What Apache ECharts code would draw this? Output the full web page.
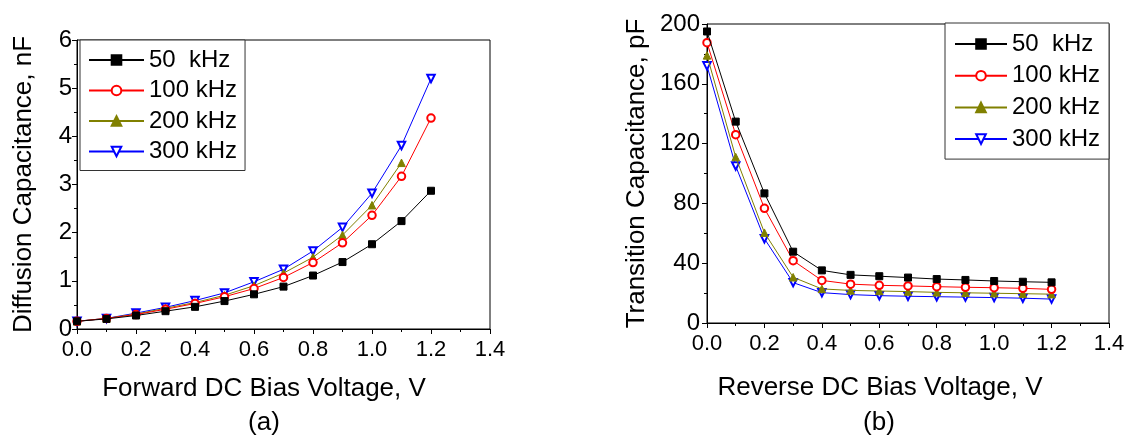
<!DOCTYPE html>
<html>
<head>
<meta charset="utf-8">
<script src="https://cdn.jsdelivr.net/npm/echarts@6/dist/echarts.min.js"></script>
<style>
  html, body { margin: 0; padding: 0; background: #fff; }
  #chart { width: 1129px; height: 437px; }
</style>
</head>
<body>
<div id="chart"></div>
<script>
// Bias voltage (V)
const voltages = [0.0, 0.1, 0.2, 0.3, 0.4, 0.5, 0.6, 0.7, 0.8, 0.9, 1.0, 1.1, 1.2];
const seriesNames = ['50  kHz', '100 kHz', '200 kHz', '300 kHz'];

// (a) Diffusion capacitance under forward bias, nF
const diff50 = [0.16, 0.21, 0.28, 0.37, 0.46, 0.58, 0.72, 0.88, 1.11, 1.39, 1.76, 2.24, 2.87];
const diff100 = [0.16, 0.22, 0.30, 0.41, 0.53, 0.67, 0.84, 1.07, 1.38, 1.79, 2.36, 3.17, 4.38];
const diff200 = [0.16, 0.22, 0.31, 0.43, 0.55, 0.70, 0.90, 1.16, 1.49, 1.95, 2.57, 3.45];
const diff300 = [0.16, 0.22, 0.33, 0.45, 0.59, 0.75, 0.98, 1.24, 1.62, 2.11, 2.82, 3.81, 5.20];

// (b) Transition capacitance under reverse bias, pF
const trans50 = [195, 134.7, 86.7, 47.7, 35.2, 32.2, 31.3, 30.4, 29.4, 28.8, 28.1, 27.6, 27.2];
const trans100 = [187.5, 126, 76.7, 41.7, 28.5, 26.0, 25.2, 24.8, 24.3, 23.9, 23.6, 23.2, 22.5];
const trans200 = [179, 111, 60.4, 30.6, 22.8, 21.8, 21.4, 21.0, 20.5, 20.2, 19.9, 19.6, 19.3];
const trans300 = [172, 105, 56.4, 27, 20.3, 19.0, 18.3, 17.9, 17.6, 17.3, 17.0, 16.6, 16.0];

const xTicks = { min: 0, max: 1.4, interval: 0.2 };
const diffTicks = { min: 0, max: 6, interval: 1 };
const transTicks = { min: 0, max: 200, interval: 40 };

const FONT = '"Liberation Sans", Arial, sans-serif';
const colors = ['#000000', '#ff0000', '#808000', '#0000ff'];
const symbols = ['rect', 'emptyCircle', 'triangle', 'emptyTriangle'];
const rotations = [0, 0, 0, 180];

function pairs(ys) {
  return ys.map((y, i) => [voltages[i], y]);
}

function makeSeries(datasets, axisIndex) {
  return datasets.map((ys, k) => ({
    name: seriesNames[k],
    type: 'line',
    xAxisIndex: axisIndex,
    yAxisIndex: axisIndex,
    data: pairs(ys),
    symbol: symbols[k],
    symbolSize: k === 0 ? 7 : 7.5,
    symbolRotate: rotations[k],
    showAllSymbol: true,
    animation: false,
    z: 10 - k,
    lineStyle: { color: colors[k], width: 1 },
    itemStyle: { color: colors[k], borderColor: colors[k], borderWidth: 1 }
  }));
}

function xAxis(gridIndex) {
  return {
    type: 'value',
    gridIndex,
    min: xTicks.min, max: xTicks.max, interval: xTicks.interval,
    axisLine: { show: true, onZero: false, lineStyle: { color: '#000', width: 1 } },
    axisTick: { show: true, inside: false, length: 5, lineStyle: { color: '#000' } },
    minorTick: { show: true, splitNumber: 2, length: 3, lineStyle: { color: '#000' } },
    splitLine: { show: false },
    axisLabel: {
      fontFamily: FONT, fontSize: 22, color: '#000', margin: 10,
      formatter: v => v.toFixed(1)
    }
  };
}

function yAxis(gridIndex, ticks, name, gap, margin) {
  return {
    type: 'value',
    gridIndex,
    min: ticks.min, max: ticks.max, interval: ticks.interval,
    name,
    nameLocation: 'middle',
    nameRotate: 90,
    nameGap: gap,
    nameTextStyle: { fontFamily: FONT, fontSize: 26, color: '#000' },
    axisLine: { show: true, onZero: false, lineStyle: { color: '#000', width: 1 } },
    axisTick: { show: true, inside: false, length: 5, lineStyle: { color: '#000' } },
    minorTick: { show: true, splitNumber: 2, length: 3, lineStyle: { color: '#000' } },
    splitLine: { show: false },
    axisLabel: { fontFamily: FONT, fontSize: 24, color: '#000', margin }
  };
}

function legend(left, top, itemWidth, gap, padding) {
  return {
    orient: 'vertical',
    left, top,
    data: seriesNames,
    itemWidth,
    itemHeight: 12,
    itemGap: gap,
    padding,
    backgroundColor: '#fff',
    borderColor: '#333',
    borderWidth: 1,
    borderRadius: 0,
    selectedMode: false,
    textStyle: { fontFamily: FONT, fontSize: 24, color: '#000', lineHeight: 22 }
  };
}

function caption(text, x, y) {
  return {
    type: 'text',
    x, y,
    style: {
      text,
      font: '26px ' + FONT,
      fill: '#000',
      align: 'center',
      verticalAlign: 'middle'
    }
  };
}

const chart = echarts.init(document.getElementById('chart'), null, { renderer: 'canvas' });

chart.setOption({
  backgroundColor: '#fff',
  animation: false,
  grid: [
    { left: 77, top: 40, width: 413, height: 289, show: true, borderColor: '#000', borderWidth: 1, backgroundColor: 'transparent' },
    { left: 707, top: 24, width: 402, height: 299, show: true, borderColor: '#000', borderWidth: 1, backgroundColor: 'transparent' }
  ],
  xAxis: [xAxis(0), xAxis(1)],
  yAxis: [
    yAxis(0, diffTicks, 'Diffusion Capacitance, nF', 40, 5),
    yAxis(1, transTicks, 'Transition Capacitance, pF', 57, 7)
  ],
  legend: [
    legend(80, 40, 55, 6.5, [8, 8, 7, 8]),
    legend(945, 23, 52, 7.7, [9, 9, 8, 9])
  ],
  graphic: [
    caption('Forward DC Bias Voltage, V', 264, 389),
    caption('(a)', 264, 423),
    caption('Reverse DC Bias Voltage, V', 880, 388),
    caption('(b)', 879, 423)
  ],
  series: [
    ...makeSeries([diff50, diff100, diff200, diff300], 0),
    ...makeSeries([trans50, trans100, trans200, trans300], 1)
  ]
});
</script>
</body>
</html>
